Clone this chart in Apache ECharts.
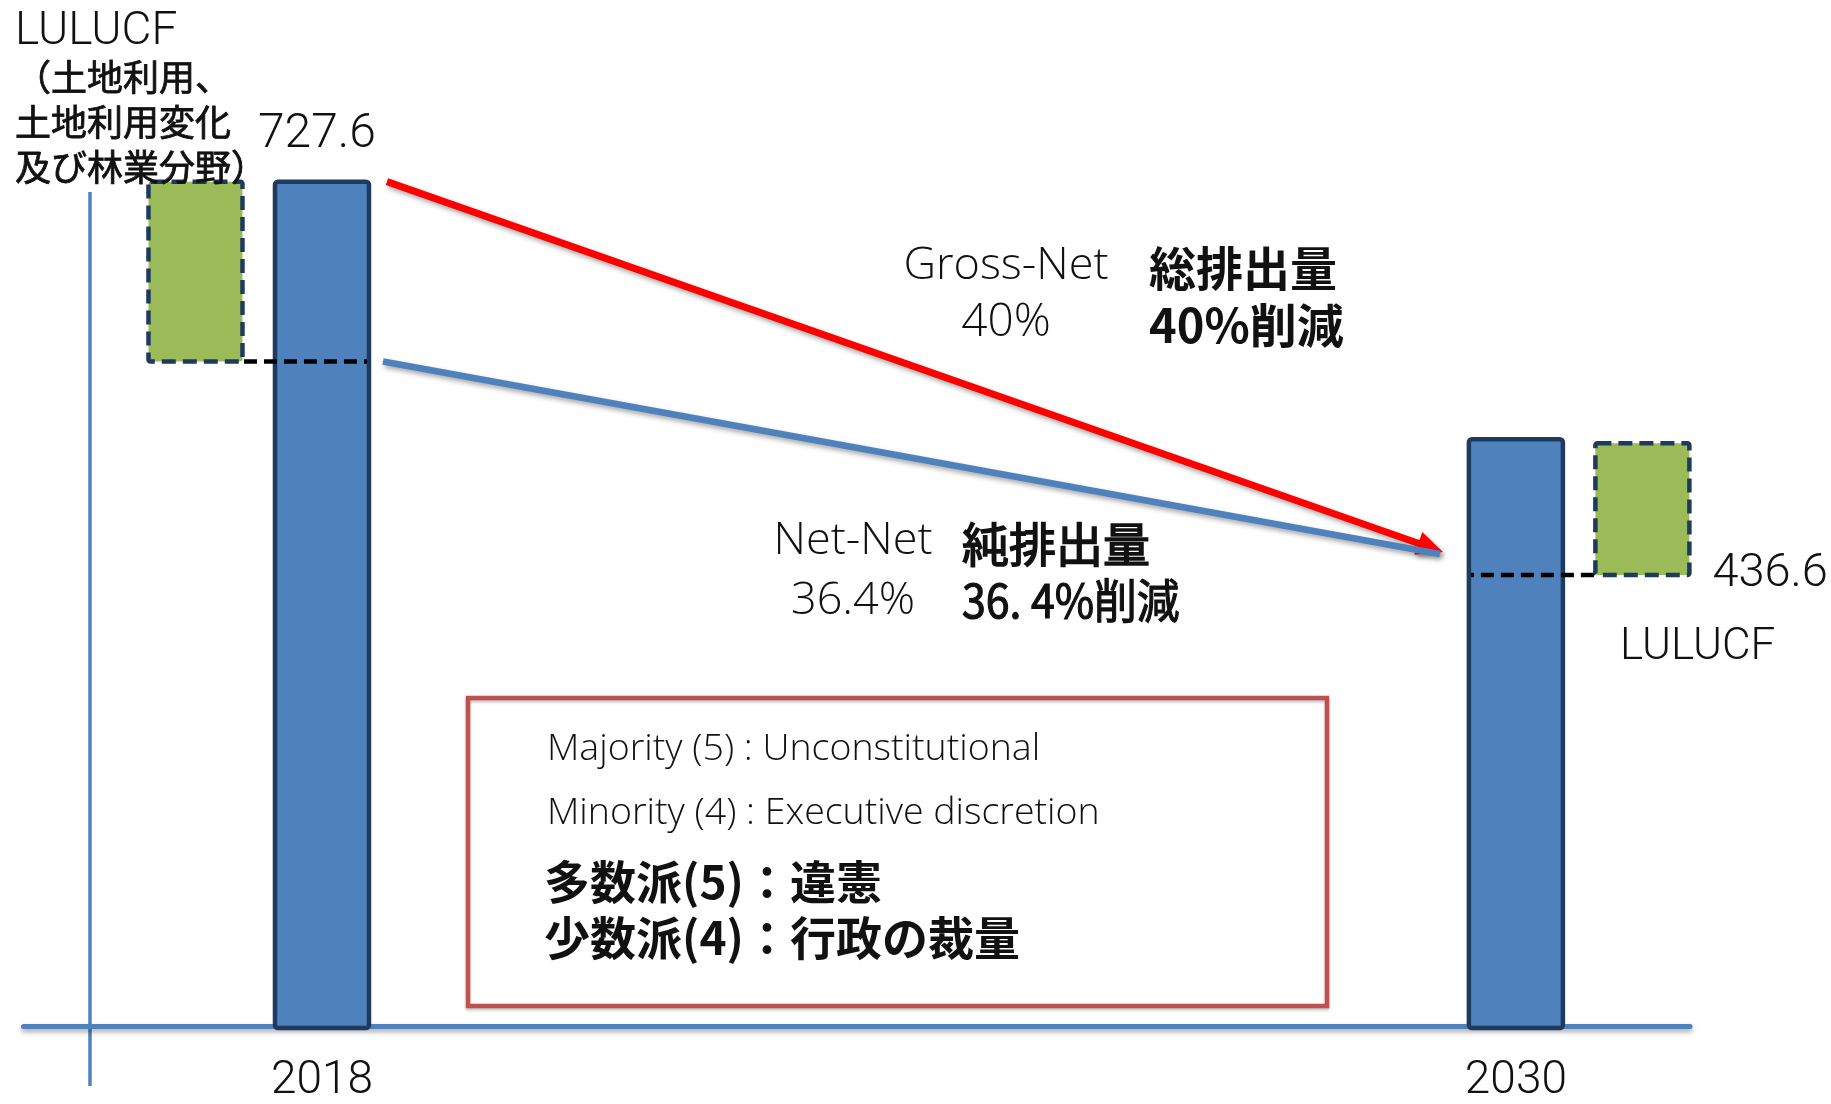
<!DOCTYPE html>
<html>
<head>
<meta charset="utf-8">
<script src="https://cdn.jsdelivr.net/npm/echarts@6/dist/echarts.min.js"></script>
<style>html,body{margin:0;padding:0;background:#fff}#c{width:1831px;height:1104px}</style>
</head>
<body>
<div id="c"></div>
<script>
// ---- data ----
const categories = ['2018', '2030'];
const grossEmissions = [727.6, 506.2];   // blue bars (top)
const lulucfTop = [727.6, 502.8];        // green LULUCF box top
const lulucfBottom = [571.4, 387.8];     // green LULUCF box bottom (net level)
const valueLabels = ['727.6', '436.6'];
const grossTrend = [726.0, 407.6];       // red arrow: start, end
const netTrend = [571.4, 405.8];         // blue line: start, end

// ---- styles ----
const BLUE = '#4f81bd', NAVY = '#1f3a5f', GREEN = '#9bbb59', RED = '#ff0000', BOX = '#c0504d';
const LATIN = 'Roboto', LATIN2 = '"Open Sans"', CJK = '"Noto Sans CJK JP"';
const BAR_W = 98;

const years = categories.map(Number);

function barItem(params, api) {
  const i = params.dataIndex;
  const x = api.value(0);
  const top = api.coord([x, api.value(1)]);
  const base = api.coord([x, 0]);
  const lt = api.coord([x, api.value(2)]);
  const lb = api.coord([x, api.value(3)]);
  const c = top[0];
  const side = i === 0 ? -1 : 1;
  const gc = c + side * 126.5;
  const children = [
    { type: 'rect', shape: { x: c - 47, y: top[1] + 2, width: 94, height: base[1] - top[1], r: 3 },
      style: { fill: BLUE, stroke: NAVY, lineWidth: 4.5 } },
    { type: 'rect', shape: { x: gc - 47, y: lt[1] + 2, width: 94, height: lb[1] - lt[1] - 2, r: 2 },
      style: { fill: GREEN, stroke: NAVY, lineWidth: 4.5, lineDash: [14, 7] } },
    { type: 'line', shape: { x1: c + side * 78, y1: lb[1], x2: c - side * 45, y2: lb[1] },
      style: { stroke: '#000', lineWidth: 4.5, lineDash: [13, 7] } }
  ];
  const lab = valueLabels[i];
  if (i === 0) {
    children.push({ type: 'text', style: { text: lab, x: c - 5, y: top[1] - 45,
      align: 'center', verticalAlign: 'middle', textAlign: 'center', textVerticalAlign: 'middle',
      fontSize: 48, fontFamily: LATIN, fontWeight: 300, fill: '#111' } });
  } else {
    children.push({ type: 'text', style: { text: lab, x: gc + 70, y: lb[1] - 1,
      align: 'left', verticalAlign: 'middle', textAlign: 'left', textVerticalAlign: 'middle',
      fontSize: 47, fontFamily: LATIN, fontWeight: 300, fill: '#111' } });
  }
  return { type: 'group', children };
}

function trendItem(params, api) {
  const i = params.dataIndex;
  const p1 = api.coord([api.value(0), api.value(1)]);
  const p2 = api.coord([api.value(2), api.value(3)]);
  const shadow = { shadowBlur: 5, shadowOffsetX: 2, shadowOffsetY: 3, shadowColor: 'rgba(0,0,0,0.35)' };
  if (i === 0) {
    const x1 = p1[0] + BAR_W / 2 + 16, y1 = p1[1];
    const tx = p2[0] - BAR_W / 2 - 24, ty = p2[1];
    const dx = tx - x1, dy = ty - y1, L = Math.hypot(dx, dy), ux = dx / L, uy = dy / L;
    const bx = tx - ux * 26, by = ty - uy * 26;
    const nx = -uy, ny = ux;
    return { type: 'group', children: [
      { type: 'line', shape: { x1, y1, x2: bx + ux * 2, y2: by + uy * 2 },
        style: Object.assign({ stroke: RED, lineWidth: 7 }, shadow) },
      { type: 'polygon', shape: { points: [[tx, ty], [bx + nx * 12, by + ny * 12], [bx - nx * 12, by - ny * 12]] },
        style: Object.assign({ fill: RED }, shadow) }
    ] };
  }
  return { type: 'line', shape: { x1: p1[0] + BAR_W / 2 + 12, y1: p1[1], x2: p2[0] - BAR_W / 2 - 27, y2: p2[1] },
    style: Object.assign({ stroke: BLUE, lineWidth: 6.5 }, shadow) };
}

function txt(text, x, y, size, opts) {
  opts = opts || {};
  const st = { text, x: 0, y: 0, fontSize: size,
    fontFamily: opts.family || (opts.cjk ? CJK : LATIN),
    fontWeight: opts.weight || (opts.cjk ? 'bold' : 300), fill: '#111',
    align: opts.align || 'left', textAlign: opts.align || 'left',
    verticalAlign: 'middle', textVerticalAlign: 'middle' };
  if (opts.border) { st.stroke = '#111'; st.lineWidth = opts.border; }
  const el = { type: 'text', z: 10, x, y, style: st };
  if (opts.scaleX) el.scaleX = opts.scaleX;
  return el;
}

const chart = echarts.init(document.getElementById('c'), null, { renderer: 'canvas' });
chart.setOption({
  animation: false,
  backgroundColor: '#fff',
  grid: { left: 23.5, right: 141, top: 95.6, bottom: 76 },
  xAxis: {
    type: 'value', min: 2015, max: 2031.75, interval: 1,
    splitLine: { show: false }, axisTick: { show: false },
    axisLine: { show: true, lineStyle: { color: BLUE, width: 5, shadowBlur: 5, shadowOffsetY: 3, shadowColor: 'rgba(0,0,0,0.35)' } },
    axisLabel: { margin: 32, fontSize: 46, fontFamily: LATIN, fontWeight: 300, color: '#111',
      showMinLabel: true, showMaxLabel: true,
      formatter: v => categories.indexOf(String(v)) >= 0 ? String(v) : '' }
  },
  yAxis: { type: 'value', min: 0, max: 800, show: false, splitLine: { show: false } },
  series: [
    { type: 'custom', name: 'emissions', renderItem: barItem, z: 3,
      encode: { x: 0, y: 1 },
      data: categories.map((c, i) => [years[i], grossEmissions[i], lulucfTop[i], lulucfBottom[i]]) },
    { type: 'custom', name: 'trends', renderItem: trendItem, z: 4,
      encode: { x: [0, 2], y: [1, 3] },
      data: [
        [years[0], grossTrend[0], years[1], grossTrend[1]],
        [years[0], netTrend[0], years[1], netTrend[1]]
      ] }
  ],
  graphic: { elements: [
    { type: 'line', shape: { x1: 90, y1: 192, x2: 90, y2: 1086 }, style: { stroke: BLUE, lineWidth: 3.5 } },
    { type: 'rect', shape: { x: 468, y: 698, width: 859, height: 308 },
      style: { fill: 'rgba(0,0,0,0)', stroke: BOX, lineWidth: 4.5, shadowBlur: 3, shadowOffsetY: 2, shadowColor: 'rgba(0,0,0,0.25)' } },
    txt('LULUCF', 15, 32, 46),
    txt('（土地利用、', 15, 77, 36, { cjk: true, weight: 'normal', border: 0.8 }),
    txt('土地利用変化', 15, 122, 36, { cjk: true, weight: 'normal', border: 0.8 }),
    txt('及び林業分野）', 15, 167, 36, { cjk: true, weight: 'normal', border: 0.8 }),
    txt('LULUCF', 1620, 648, 44),
    txt('Gross-Net', 1006, 266, 45, { align: 'center', family: LATIN2 }),
    txt('40%', 1006, 323, 46, { align: 'center', family: LATIN2 }),
    txt('総排出量', 1149, 268, 47, { cjk: true }),
    txt('40%削減', 1149, 325, 47, { cjk: true }),
    txt('Net-Net', 853, 541, 45, { align: 'center', family: LATIN2 }),
    txt('36.4%', 853, 601, 45, { align: 'center', family: LATIN2 }),
    txt('純排出量', 962, 544, 47, { cjk: true, weight: 'normal', border: 1.6 }),
    txt('36. 4%削減', 962, 600, 47, { cjk: true, weight: 'normal', border: 1.2, scaleX: 0.91 }),
    txt('Majority (5) : Unconstitutional', 547, 749, 37.5, { family: LATIN2 }),
    txt('Minority (4) : Executive discretion', 547, 813, 37.5, { family: LATIN2 }),
    txt('多数派(5)：違憲', 544, 882, 46, { cjk: true }),
    txt('少数派(4)：行政の裁量', 544, 938, 46, { cjk: true })
  ] }
});
</script>
</body>
</html>
